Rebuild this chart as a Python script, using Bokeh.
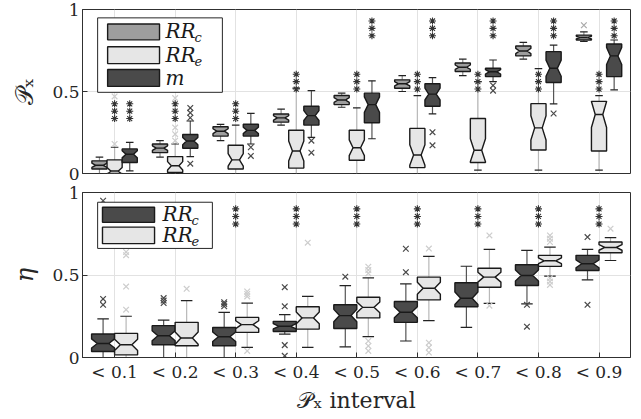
import numpy as np
from bokeh.plotting import figure
from bokeh.layouts import column
from bokeh.models import Range1d, FixedTicker, CustomJSTickFormatter
from bokeh.core.properties import value
from bokeh.embed import file_html
from bokeh.resources import INLINE

# ---------------- data ----------------
categories = ["< 0.1", "< 0.2", "< 0.3", "< 0.4", "< 0.5", "< 0.6", "< 0.7", "< 0.8", "< 0.9"]
cat_pos = list(range(1, len(categories) + 1))
N_SAMPLES = 36  # used for notch size

# top panel (P_x): RR_c, RR_e, m
top_c_q1 = [0.027, 0.127, 0.228, 0.313, 0.420, 0.520, 0.622, 0.717, 0.814]
top_c_med = [0.050, 0.155, 0.258, 0.339, 0.448, 0.547, 0.648, 0.747, 0.829]
top_c_q3 = [0.077, 0.180, 0.285, 0.363, 0.476, 0.571, 0.674, 0.777, 0.844]
top_c_lo = [0.000, 0.100, 0.200, 0.295, 0.404, 0.500, 0.597, 0.698, 0.805]
top_c_hi = [0.100, 0.200, 0.300, 0.393, 0.490, 0.597, 0.698, 0.800, 0.864]
top_c_out = [[], [], [], [], [], [], [], [], [0.904]]

top_e_q1 = [0.000, 0.006, 0.027, 0.033, 0.081, 0.036, 0.067, 0.143, 0.137]
top_e_med = [0.015, 0.047, 0.083, 0.137, 0.157, 0.113, 0.142, 0.278, 0.360]
top_e_q3 = [0.083, 0.103, 0.172, 0.264, 0.264, 0.275, 0.335, 0.426, 0.440]
top_e_lo = [0.000, 0.000, 0.000, 0.000, 0.000, 0.000, 0.020, 0.020, 0.020]
top_e_hi = [0.160, 0.180, 0.295, 0.520, 0.400, 0.475, 0.560, 0.640, 0.475]
top_e_out = [[0.18, 0.47], [0.20, 0.24, 0.28, 0.46], [], [], [], [], [], [], []]

top_m_q1 = [0.067, 0.154, 0.228, 0.295, 0.309, 0.410, 0.591, 0.555, 0.591]
top_m_med = [0.117, 0.198, 0.263, 0.353, 0.420, 0.484, 0.620, 0.642, 0.717]
top_m_q3 = [0.150, 0.238, 0.300, 0.410, 0.490, 0.547, 0.642, 0.743, 0.790]
top_m_lo = [0.016, 0.103, 0.180, 0.220, 0.212, 0.363, 0.560, 0.424, 0.510]
top_m_hi = [0.190, 0.320, 0.367, 0.505, 0.565, 0.585, 0.692, 0.783, 0.814]
top_m_out = [[], [0.06, 0.34, 0.37, 0.40], [0.107, 0.16], [0.127, 0.20], [], [0.172, 0.252],
             [0.505, 0.537], [0.366], []]

# significance marks (***) centre heights, NaN = none
top_sig_e = [0.38, 0.38, 0.38, 0.56, 0.56, 0.56, 0.56, 0.56, 0.56]
top_sig_m = [0.38, np.nan, np.nan, np.nan, 0.885, 0.885, 0.885, 0.885, 0.885]

# bottom panel (eta): RR_c, RR_e
bot_c_q1 = [0.036, 0.077, 0.071, 0.158, 0.176, 0.213, 0.308, 0.436, 0.527]
bot_c_med = [0.085, 0.132, 0.126, 0.189, 0.254, 0.274, 0.359, 0.497, 0.568]
bot_c_q3 = [0.142, 0.193, 0.182, 0.219, 0.320, 0.339, 0.453, 0.562, 0.619]
bot_c_lo = [0.000, 0.000, 0.000, 0.142, 0.065, 0.100, 0.182, 0.325, 0.471]
bot_c_hi = [0.234, 0.227, 0.274, 0.260, 0.436, 0.446, 0.553, 0.649, 0.655]
bot_c_out = [[0.319, 0.355, 0.95], [0.33, 0.345, 0.36], [0.31, 0.325, 0.335],
             [0.01, 0.075, 0.31, 0.426], [0.49], [0.517, 0.659], [], [0.187, 0.319], [0.319, 0.73]]

bot_e_q1 = [0.016, 0.071, 0.152, 0.172, 0.240, 0.349, 0.426, 0.552, 0.635]
bot_e_med = [0.077, 0.118, 0.199, 0.240, 0.304, 0.420, 0.487, 0.586, 0.667]
bot_e_q3 = [0.146, 0.213, 0.243, 0.308, 0.365, 0.487, 0.541, 0.619, 0.700]
bot_e_lo = [0.000, 0.000, 0.061, 0.061, 0.126, 0.223, 0.328, 0.493, 0.588]
bot_e_hi = [0.250, 0.345, 0.330, 0.371, 0.483, 0.613, 0.655, 0.669, 0.726]
bot_e_out = [[0.29, 0.43, 0.62, 0.64], [0.416], [0.04, 0.37, 0.385, 0.40], [0.696],
             [0.04, 0.07, 0.10, 0.51, 0.53, 0.55], [0.03, 0.06, 0.09, 0.66], [0.314, 0.74],
             [0.44, 0.46, 0.48, 0.70, 0.72, 0.74], [0.781]]

bot_sig = [np.nan, np.nan, 0.855, 0.855, 0.855, 0.855, 0.855, 0.855, 0.855]

# ---------------- styles ----------------
FONT = "DejaVu Serif"
MID, LIGHT, DARK = "#9e9e9e", "#e6e6e6", "#4a4a4a"
WHISK = {MID: "#8a8a8a", LIGHT: "#b8b8b8", DARK: "#555555"}
OUTC = {MID: "#a8a8a8", LIGHT: "#cdcdcd", DARK: "#4a4a4a"}
GRID = "#e2e2e2"
FRAME = "#303030"


def make_fig(border_top, frame_h, border_bottom, show_x):
    p = figure(frame_width=548, frame_height=frame_h,
               output_backend="svg", toolbar_location=None,
               x_range=Range1d(0.47, 9.52), y_range=Range1d(0, 1),
               min_border_left=82, min_border_right=8,
               min_border_top=border_top, min_border_bottom=border_bottom)
    p.outline_line_color = FRAME
    p.outline_line_width = 1
    p.background_fill_color = "white"
    p.border_fill_color = "white"
    p.xgrid.ticker = FixedTicker(ticks=cat_pos)
    p.ygrid.ticker = FixedTicker(ticks=[0.5])
    p.xgrid.grid_line_color = GRID
    p.ygrid.grid_line_color = GRID
    p.yaxis.ticker = FixedTicker(ticks=[0, 0.5, 1])
    p.yaxis.formatter = CustomJSTickFormatter(code="return tick.toString();")
    for ax in [p.xaxis[0], p.yaxis[0]]:
        ax.axis_line_color = FRAME
        ax.major_tick_line_color = FRAME
        ax.major_tick_in = 5
        ax.major_tick_out = 0
        ax.minor_tick_line_color = None
        ax.major_label_text_font = FONT
        ax.major_label_text_font_size = "17px"
        ax.major_label_text_color = "#262626"
        ax.axis_label_text_font = FONT
        ax.axis_label_text_font_style = "normal"
        ax.axis_label_text_color = "#262626"
    p.yaxis.major_label_standoff = 3
    p.yaxis.axis_label_standoff = 10
    p.yaxis.axis_label_text_font_size = "24px"
    p.xaxis.ticker = FixedTicker(ticks=cat_pos)
    p.xaxis.formatter = CustomJSTickFormatter(args=dict(labels=categories),
                                              code="return labels[Math.round(tick) - 1];")
    p.xaxis.major_label_standoff = 4
    p.xaxis.axis_label_standoff = 3
    p.xaxis.axis_label_text_font_size = "22px"
    p.xaxis.visible = show_x
    return p


def draw_group(p, offset, width, q1, med, q3, lo, hi, outs, color):
    xc = [c + offset for c in cat_pos]
    # whiskers
    p.segment(x0=xc, y0=q3, x1=xc, y1=hi, line_color=WHISK[color], line_width=1.2)
    p.segment(x0=xc, y0=lo, x1=xc, y1=q1, line_color=WHISK[color], line_width=1.2)
    cap = width / 4
    p.segment(x0=[x - cap for x in xc], y0=hi, x1=[x + cap for x in xc], y1=hi,
              line_color="#222222", line_width=1.2)
    p.segment(x0=[x - cap for x in xc], y0=lo, x1=[x + cap for x in xc], y1=lo,
              line_color="#222222", line_width=1.2)
    # notched boxes
    xs, ys, mx0, mx1 = [], [], [], []
    for x, a, m, b in zip(xc, q1, med, q3):
        nd = 1.57 * (b - a) / np.sqrt(N_SAMPLES)
        L, R, ind = x - width / 2, x + width / 2, width / 4
        xs.append([L, L, L + ind, L, L, R, R, R - ind, R, R])
        ys.append([a, m - nd, m, m + nd, b, b, m + nd, m, m - nd, a])
        mx0.append(L + ind)
        mx1.append(R - ind)
    p.patches(xs=xs, ys=ys, fill_color=color, line_color="#1a1a1a", line_width=1.4)
    p.segment(x0=mx0, y0=med, x1=mx1, y1=med, line_color="#1a1a1a", line_width=1.4)
    # outliers
    ox, oy = [], []
    for x, vals in zip(xc, outs):
        for v in vals:
            ox.append(x)
            oy.append(v)
    p.scatter(ox, oy, marker="x", size=8, line_color=OUTC[color], line_width=1.2)


def draw_sig(p, offset, ys, step):
    xs = [c + offset for c, y in zip(cat_pos, ys) if not np.isnan(y)]
    yv = [y for y in ys if not np.isnan(y)]
    for k in (-1, 0, 1):
        p.scatter(xs, [y + k * step for y in yv], marker="asterisk", size=7,
                  line_color="#333333", line_width=1.1)


def draw_legend(p, frame, patches_x, patches, labels_y, label_x, entries):
    p.quad(left=[frame[0]], right=[frame[1]], bottom=[frame[2]], top=[frame[3]],
           fill_color="white", line_color="#262626", line_width=1)
    for (b, t), (color, _, _) in zip(patches, entries):
        p.quad(left=[patches_x[0]], right=[patches_x[1]], bottom=[b], top=[t],
               fill_color=color, line_color="#1a1a1a", line_width=1.4)
    for y, (_, main, sub) in zip(labels_y, entries):
        p.text(x=[label_x], y=[y], text=[main], text_font=value(FONT),
               text_font_style="italic", text_font_size="20px",
               text_baseline="middle", text_align="left", text_color="#1a1a1a")
        if sub:
            p.text(x=[label_x], y=[y], text=[sub], text_font=value(FONT),
                   text_font_style="italic", text_font_size="13px",
                   text_baseline="middle", text_align="left", text_color="#1a1a1a",
                   x_offset=29, y_offset=6)


# ---------------- top panel ----------------
p1 = make_fig(9, 164, 10, False)
p1.yaxis.axis_label = "𝒫ₓ"
draw_group(p1, -0.25, 0.25, top_c_q1, top_c_med, top_c_q3, top_c_lo, top_c_hi, top_c_out, MID)
draw_group(p1, 0.0, 0.25, top_e_q1, top_e_med, top_e_q3, top_e_lo, top_e_hi, top_e_out, LIGHT)
draw_group(p1, 0.25, 0.25, top_m_q1, top_m_med, top_m_q3, top_m_lo, top_m_hi, top_m_out, DARK)
draw_sig(p1, 0.0, top_sig_e, 0.045)
draw_sig(p1, 0.25, top_sig_m, 0.045)
draw_legend(p1, (0.72, 2.78, 0.495, 0.949), (0.885, 1.742),
            [(0.815, 0.912), (0.670, 0.773), (0.531, 0.634)],
            [0.866, 0.724, 0.585], 1.84,
            [(MID, "RR", "c"), (LIGHT, "RR", "e"), (DARK, "m", "")])

# ---------------- bottom panel ----------------
p2 = make_fig(9, 165, 56, True)
p2.yaxis.axis_label = "η"
p2.yaxis.axis_label_text_font_style = "italic"
p2.xaxis.axis_label = "𝒫ₓ interval"
draw_group(p2, -0.19, 0.38, bot_c_q1, bot_c_med, bot_c_q3, bot_c_lo, bot_c_hi, bot_c_out, DARK)
draw_group(p2, 0.19, 0.38, bot_e_q1, bot_e_med, bot_e_q3, bot_e_lo, bot_e_hi, bot_e_out, LIGHT)
draw_sig(p2, 0.0, bot_sig, 0.046)
draw_legend(p2, (0.72, 2.615, 0.661, 0.941), (0.80, 1.66),
            [(0.819, 0.911), (0.69, 0.79)],
            [0.868, 0.743], 1.79,
            [(DARK, "RR", "c"), (LIGHT, "RR", "e")])

layout = column(p1, p2, spacing=0)
open("out.html", "w").write(file_html(layout, INLINE))
